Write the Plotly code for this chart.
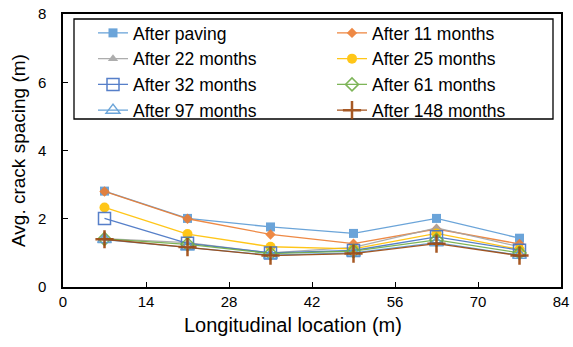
import plotly.graph_objects as go

x_loc = [7, 21, 35, 49, 63, 77]
x_ticks = [0, 14, 28, 42, 56, 70, 84]
y_ticks = [0, 2, 4, 6, 8]
series_names = ["After paving", "After 11 months", "After 22 months", "After 25 months",
                "After 32 months", "After 61 months", "After 97 months", "After 148 months"]
after_paving = [2.81, 2.01, 1.76, 1.57, 2.01, 1.43]
after_11 = [2.80, 2.00, 1.54, 1.27, 1.70, 1.26]
after_22 = [1.42, 1.30, 1.00, 1.16, 1.73, 1.18]
after_25 = [2.33, 1.55, 1.18, 1.12, 1.57, 1.10]
after_32 = [2.01, 1.28, 1.00, 1.07, 1.47, 1.08]
after_61 = [1.41, 1.25, 0.98, 1.05, 1.38, 1.00]
after_97 = [1.39, 1.17, 0.93, 1.00, 1.30, 0.93]
after_148 = [1.40, 1.17, 0.92, 0.98, 1.27, 0.92]

values = [after_paving, after_11, after_22, after_25, after_32, after_61, after_97, after_148]
colors = ["#5B9BD5", "#ED7D31", "#A5A5A5", "#FFC000", "#4472C4", "#70AD47", "#5B9BD5", "#9E480E"]
symbols = ["square", "diamond", "triangle-up", "circle", "square-open", "diamond-open",
           "triangle-up-open", "cross-thin-open"]
sizes = [9, 8, 9, 10, 12, 10, 12, 13]

W, H = 573, 347
L, R, T, B = 63, 12, 14, 60
pw, ph = W - L - R, H - T - B

def px_x(p):  # window pixel -> paper coordinate
    return (p - L) / pw

def px_y(p):
    return 1 - (p - T) / ph

fig = go.Figure()
for name, vals, c, s, sz in zip(series_names, values, colors, symbols, sizes):
    lw = 2.5 if s.startswith("cross") else (1.5 if "open" in s else 0)
    fig.add_trace(go.Scatter(
        x=x_loc, y=vals, name=name, mode="lines+markers",
        line=dict(color=c, width=1.3),
        marker=dict(symbol=s, size=sz, color=c, line=dict(color=c, width=lw)),
        opacity=0.9,
    ))

# legend frame (drawn as a shape so the entries can sit inside it as in the reference)
fig.add_shape(type="rect", xref="paper", yref="paper",
              x0=px_x(74), x1=px_x(553), y0=px_y(119), y1=px_y(19),
              line=dict(color="black", width=1.3), fillcolor="rgba(0,0,0,0)", layer="above")

fig.update_layout(
    width=W, height=H,
    margin=dict(l=L, r=R, t=T, b=B, autoexpand=False),
    paper_bgcolor="white", plot_bgcolor="white",
    font=dict(family="Liberation Sans, Arial, sans-serif", size=15, color="black"),
    showlegend=True,
    legend=dict(
        orientation="h", x=px_x(93), y=px_y(15), xanchor="left", yanchor="top",
        entrywidth=194, entrywidthmode="pixels",
        borderwidth=0, bgcolor="rgba(0,0,0,0)",
        font=dict(size=17.5), itemwidth=30,
    ),
    xaxis=dict(
        range=[0, 84], tickvals=x_ticks, automargin=False, ticklabeloverflow="allow",
        ticks="inside", ticklen=5, tickcolor="black",
        showline=True, linecolor="black", linewidth=1.5, mirror=True,
        showgrid=False, zeroline=False,
    ),
    yaxis=dict(
        range=[0, 8], tickvals=y_ticks, automargin=False, ticklabeloverflow="allow",
        ticks="inside", ticklen=5, tickcolor="black", ticklabelstandoff=12,
        showline=True, linecolor="black", linewidth=1.5, mirror=True,
        showgrid=False, zeroline=False,
    ),
    annotations=[
        dict(text="Longitudinal location (m)", xref="paper", yref="paper",
             x=px_x(293), y=px_y(325), showarrow=False, font=dict(size=20),
             xanchor="center", yanchor="middle"),
        dict(text="Avg. crack spacing (m)", xref="paper", yref="paper",
             x=px_x(18), y=px_y(151), showarrow=False, font=dict(size=19), textangle=-90,
             xanchor="center", yanchor="middle"),
    ],
)

# remove the default 8px page margin so the figure fills the window exactly
fig.write_html("out.html", config={"displayModeBar": False},
               post_script="document.body.style.margin='0px';")
